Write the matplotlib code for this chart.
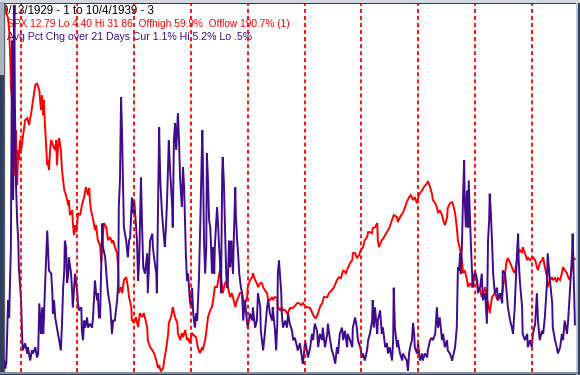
import matplotlib
matplotlib.use('Agg')
import matplotlib.pyplot as plt
from matplotlib.patches import Rectangle

# S&P (SPX) daily path (decimal year, index level)
spx_t = [
    1929.70, 1929.72, 1929.75, 1929.78, 1929.80, 1929.82, 1929.83, 1929.85, 1929.87, 1929.89,
    1929.90, 1929.92, 1929.94, 1929.96, 1929.97, 1929.99, 1930.01, 1930.04, 1930.08, 1930.12,
    1930.15, 1930.19, 1930.22, 1930.26, 1930.29, 1930.33, 1930.36, 1930.38, 1930.40, 1930.41,
    1930.43, 1930.45, 1930.47, 1930.48, 1930.50, 1930.52, 1930.54, 1930.57, 1930.61, 1930.63,
    1930.64, 1930.66, 1930.68, 1930.71, 1930.73, 1930.75, 1930.77, 1930.80, 1930.84, 1930.85,
    1930.87, 1930.91, 1930.92, 1930.94, 1930.96, 1930.98, 1931.00, 1931.01, 1931.05, 1931.08,
    1931.12, 1931.15, 1931.19, 1931.21, 1931.22, 1931.24, 1931.28, 1931.31, 1931.33, 1931.36,
    1931.40, 1931.42, 1931.44, 1931.47, 1931.51, 1931.54, 1931.58, 1931.61, 1931.63, 1931.66,
    1931.70, 1931.72, 1931.73, 1931.77, 1931.79, 1931.82, 1931.86, 1931.89, 1931.91, 1931.95,
    1931.96, 1932.00, 1932.03, 1932.07, 1932.10, 1932.14, 1932.17, 1932.23, 1932.24, 1932.28,
    1932.32, 1932.35, 1932.39, 1932.42, 1932.44, 1932.47, 1932.51, 1932.53, 1932.56, 1932.60,
    1932.61, 1932.65, 1932.68, 1932.72, 1932.76, 1932.77, 1932.81, 1932.84, 1932.86, 1932.90,
    1932.93, 1932.95, 1932.98, 1933.02, 1933.05, 1933.09, 1933.12, 1933.16, 1933.20, 1933.21,
    1933.25, 1933.28, 1933.30, 1933.34, 1933.37, 1933.39, 1933.42, 1933.46, 1933.48, 1933.51,
    1933.55, 1933.56, 1933.60, 1933.64, 1933.65, 1933.69, 1933.72, 1933.74, 1933.78, 1933.81,
    1933.83, 1933.86, 1933.90, 1933.92, 1933.95, 1933.99, 1934.00, 1934.04, 1934.08, 1934.09,
    1934.13, 1934.16, 1934.18, 1934.22, 1934.25, 1934.27, 1934.30, 1934.34, 1934.36, 1934.39,
    1934.43, 1934.44, 1934.48, 1934.52, 1934.53, 1934.57, 1934.60, 1934.62, 1934.66, 1934.69,
    1934.71, 1934.74, 1934.78, 1934.81, 1934.87, 1934.90, 1934.94, 1934.97, 1935.03, 1935.06,
    1935.10, 1935.13, 1935.17, 1935.20, 1935.24, 1935.27, 1935.31, 1935.34, 1935.40, 1935.43,
    1935.48, 1935.52, 1935.57, 1935.61, 1935.64, 1935.68, 1935.73, 1935.76, 1935.80, 1935.84,
    1935.85, 1935.89, 1935.92, 1935.96, 1935.99, 1936.03, 1936.06, 1936.10, 1936.12, 1936.15,
    1936.19, 1936.20, 1936.24, 1936.28, 1936.29, 1936.31, 1936.36, 1936.40, 1936.45, 1936.49,
    1936.54, 1936.57, 1936.63, 1936.64, 1936.70, 1936.73, 1936.77, 1936.80, 1936.84, 1936.87,
    1936.91, 1936.94, 1936.98, 1937.01, 1937.07, 1937.10, 1937.16, 1937.17, 1937.21, 1937.24,
    1937.26, 1937.30, 1937.33, 1937.35, 1937.38, 1937.42, 1937.44, 1937.47, 1937.51, 1937.52,
    1937.56, 1937.60, 1937.61, 1937.65, 1937.68, 1937.70, 1937.74, 1937.77, 1937.79, 1937.82,
    1937.86, 1937.88, 1937.91, 1937.95, 1937.96, 1938.00, 1938.05, 1938.09, 1938.12, 1938.18,
    1938.23, 1938.26, 1938.30, 1938.35, 1938.40, 1938.48, 1938.53, 1938.56, 1938.58, 1938.62,
    1938.65, 1938.67, 1938.70, 1938.74, 1938.76, 1938.79, 1938.83, 1938.84, 1938.88, 1938.92,
    1938.93, 1938.97, 1939.00, 1939.02, 1939.06, 1939.09, 1939.11, 1939.14, 1939.18, 1939.20,
    1939.23, 1939.27, 1939.28, 1939.32, 1939.36, 1939.37, 1939.41, 1939.44, 1939.46, 1939.50,
    1939.53, 1939.55, 1939.58, 1939.62, 1939.64, 1939.67, 1939.71, 1939.72, 1939.76,
]
spx_close = [
    31.30, 31.86, 31.14, 30.77, 29.87, 27.63, 25.77, 24.65, 21.67, 23.91,
    19.05, 22.41, 18.31, 20.92, 20.17, 21.67, 20.92, 21.82, 23.16, 23.31,
    22.79, 23.76, 24.65, 25.77, 25.92, 25.40, 23.91, 25.02, 23.53, 24.65,
    22.79, 21.29, 19.80, 20.17, 19.43, 20.92, 21.67, 21.29, 20.92, 21.67,
    19.80, 21.07, 21.82, 20.92, 19.43, 18.68, 17.93, 17.56, 16.81, 17.19,
    16.07, 16.44, 15.55, 14.58, 15.32, 14.80, 15.55, 16.22, 16.07, 16.81,
    17.41, 18.16, 17.56, 18.08, 17.19, 16.44, 15.70, 14.95, 15.32, 14.20,
    13.83, 12.56, 14.20, 15.47, 15.17, 14.20, 14.43, 13.98, 14.20, 13.68,
    13.23, 11.96, 10.25, 10.70, 10.25, 11.22, 11.44, 10.70, 9.95, 9.20,
    8.23, 8.01, 8.46, 7.71, 8.76, 8.46, 8.76, 7.71, 6.74, 6.22,
    5.99, 5.77, 5.25, 4.65, 4.88, 4.40, 4.65, 5.25, 5.99, 7.26,
    8.01, 8.46, 9.20, 8.46, 8.01, 7.26, 6.74, 7.26, 6.96, 7.49,
    6.74, 6.89, 6.52, 7.26, 7.11, 6.96, 6.22, 5.77, 6.22, 5.99,
    6.74, 7.71, 8.46, 8.98, 9.20, 9.73, 10.70, 10.70, 11.22, 11.96,
    10.70, 10.25, 10.99, 11.22, 10.70, 9.95, 10.25, 9.95, 9.20, 9.73,
    9.88, 10.25, 10.25, 9.73, 9.50, 9.95, 10.70, 11.22, 11.44, 11.74,
    11.22, 10.99, 10.70, 10.99, 10.99, 10.70, 10.47, 10.25, 9.73, 9.73,
    9.95, 9.73, 9.95, 9.88, 9.20, 8.98, 9.20, 8.98, 8.98, 8.76,
    8.76, 9.13, 9.13, 9.20, 9.50, 9.50, 9.35, 9.50, 9.20, 9.20,
    9.13, 8.83, 8.46, 8.38, 8.76, 9.20, 9.50, 9.95, 9.95, 10.25,
    10.47, 10.70, 11.22, 11.44, 11.37, 11.96, 11.74, 12.11, 12.49, 12.71,
    13.23, 13.23, 12.86, 13.08, 13.46, 13.68, 14.20, 14.43, 14.80, 14.80,
    14.73, 15.10, 15.17, 15.47, 14.20, 13.68, 14.20, 14.43, 14.80, 15.10,
    15.70, 16.07, 15.92, 15.55, 16.07, 16.22, 16.66, 17.04, 17.41, 17.56,
    17.19, 17.41, 16.96, 17.56, 17.93, 18.16, 18.46, 18.61, 18.16, 17.71,
    17.19, 16.96, 16.66, 16.22, 16.44, 16.07, 15.70, 15.32, 15.92, 16.59,
    16.96, 17.04, 16.96, 16.22, 15.17, 14.20, 13.46, 12.71, 11.74, 11.96,
    11.22, 10.70, 10.99, 10.70, 11.22, 11.74, 10.70, 10.47, 9.95, 10.70,
    9.50, 8.76, 9.95, 10.25, 9.73, 10.25, 11.74, 12.71, 12.86, 12.49,
    12.19, 11.96, 11.74, 12.71, 13.23, 13.46, 13.23, 13.68, 13.23, 12.71,
    12.93, 12.71, 12.86, 12.93, 12.71, 12.19, 11.96, 12.49, 12.71, 12.93,
    12.19, 11.44, 10.70, 11.22, 11.44, 11.22, 11.37, 11.07, 11.37, 11.22,
    11.74, 12.19, 11.96, 11.74, 11.44, 11.22, 12.19, 12.93, 12.79,
]

# Avg absolute pct change over 21 days (decimal year, percent)
vol_t = [
    1929.71, 1929.73, 1929.75, 1929.76, 1929.78, 1929.80, 1929.83, 1929.85, 1929.87, 1929.89,
    1929.90, 1929.92, 1929.94, 1929.96, 1929.97, 1930.01, 1930.03, 1930.04, 1930.08, 1930.12,
    1930.13, 1930.17, 1930.20, 1930.22, 1930.26, 1930.29, 1930.31, 1930.33, 1930.36, 1930.38,
    1930.40, 1930.41, 1930.43, 1930.47, 1930.48, 1930.50, 1930.54, 1930.56, 1930.57, 1930.59,
    1930.61, 1930.64, 1930.66, 1930.68, 1930.71, 1930.73, 1930.75, 1930.77, 1930.78, 1930.80,
    1930.82, 1930.84, 1930.85, 1930.89, 1930.91, 1930.92, 1930.96, 1931.00, 1931.01, 1931.03,
    1931.07, 1931.08, 1931.10, 1931.12, 1931.14, 1931.17, 1931.19, 1931.22, 1931.26, 1931.28,
    1931.31, 1931.33, 1931.35, 1931.36, 1931.38, 1931.40, 1931.42, 1931.44, 1931.45, 1931.49,
    1931.52, 1931.54, 1931.58, 1931.61, 1931.63, 1931.66, 1931.70, 1931.72, 1931.73, 1931.75,
    1931.77, 1931.79, 1931.80, 1931.82, 1931.86, 1931.88, 1931.89, 1931.91, 1931.93, 1931.96,
    1931.98, 1932.00, 1932.03, 1932.05, 1932.07, 1932.09, 1932.12, 1932.14, 1932.16, 1932.19,
    1932.23, 1932.24, 1932.26, 1932.28, 1932.32, 1932.33, 1932.35, 1932.39, 1932.40, 1932.42,
    1932.44, 1932.46, 1932.49, 1932.51, 1932.53, 1932.54, 1932.56, 1932.58, 1932.60, 1932.61,
    1932.63, 1932.67, 1932.68, 1932.70, 1932.72, 1932.74, 1932.77, 1932.79, 1932.81, 1932.84,
    1932.86, 1932.88, 1932.90, 1932.91, 1932.93, 1932.95, 1932.98, 1933.00, 1933.02, 1933.04,
    1933.07, 1933.09, 1933.11, 1933.14, 1933.16, 1933.18, 1933.20, 1933.21, 1933.23, 1933.25,
    1933.27, 1933.28, 1933.30, 1933.32, 1933.34, 1933.35, 1933.37, 1933.39, 1933.41, 1933.42,
    1933.46, 1933.48, 1933.49, 1933.51, 1933.53, 1933.55, 1933.56, 1933.58, 1933.60, 1933.62,
    1933.64, 1933.65, 1933.67, 1933.69, 1933.71, 1933.72, 1933.74, 1933.76, 1933.78, 1933.79,
    1933.81, 1933.83, 1933.85, 1933.88, 1933.90, 1933.92, 1933.93, 1933.95, 1933.99, 1934.00,
    1934.04, 1934.08, 1934.09, 1934.13, 1934.16, 1934.18, 1934.22, 1934.23, 1934.25, 1934.27,
    1934.30, 1934.34, 1934.36, 1934.39, 1934.43, 1934.44, 1934.48, 1934.50, 1934.52, 1934.53,
    1934.55, 1934.59, 1934.60, 1934.62, 1934.66, 1934.69, 1934.71, 1934.74, 1934.78, 1934.80,
    1934.83, 1934.87, 1934.88, 1934.92, 1934.96, 1934.97, 1934.99, 1935.01, 1935.04, 1935.06,
    1935.10, 1935.13, 1935.15, 1935.18, 1935.22, 1935.24, 1935.27, 1935.31, 1935.32, 1935.36,
    1935.40, 1935.41, 1935.45, 1935.48, 1935.50, 1935.54, 1935.57, 1935.59, 1935.62, 1935.66,
    1935.68, 1935.71, 1935.75, 1935.76, 1935.80, 1935.84, 1935.85, 1935.89, 1935.92, 1935.94,
    1935.98, 1936.01, 1936.03, 1936.06, 1936.10, 1936.12, 1936.15, 1936.19, 1936.20, 1936.22,
    1936.24, 1936.28, 1936.29, 1936.33, 1936.36, 1936.38, 1936.42, 1936.45, 1936.47, 1936.50,
    1936.54, 1936.56, 1936.57, 1936.59, 1936.63, 1936.64, 1936.68, 1936.72, 1936.73, 1936.77,
    1936.80, 1936.82, 1936.84, 1936.86, 1936.89, 1936.91, 1936.93, 1936.94, 1936.98, 1937.00,
    1937.03, 1937.07, 1937.08, 1937.12, 1937.16, 1937.17, 1937.21, 1937.24, 1937.26, 1937.30,
    1937.33, 1937.35, 1937.38, 1937.42, 1937.44, 1937.47, 1937.51, 1937.52, 1937.56, 1937.60,
    1937.61, 1937.65, 1937.68, 1937.70, 1937.72, 1937.74, 1937.75, 1937.77, 1937.79, 1937.81,
    1937.82, 1937.84, 1937.86, 1937.88, 1937.89, 1937.93, 1937.95, 1937.96, 1938.00, 1938.04,
    1938.05, 1938.09, 1938.12, 1938.14, 1938.18, 1938.21, 1938.23, 1938.25, 1938.26, 1938.28,
    1938.30, 1938.32, 1938.35, 1938.39, 1938.40, 1938.44, 1938.48, 1938.49, 1938.53, 1938.56,
    1938.58, 1938.62, 1938.65, 1938.67, 1938.70, 1938.74, 1938.76, 1938.77, 1938.79, 1938.83,
    1938.84, 1938.88, 1938.92, 1938.93, 1938.97, 1939.00, 1939.02, 1939.06, 1939.09, 1939.11,
    1939.14, 1939.18, 1939.20, 1939.23, 1939.27, 1939.28, 1939.32, 1939.36, 1939.37, 1939.41,
    1939.44, 1939.46, 1939.50, 1939.53, 1939.55, 1939.58, 1939.62, 1939.64, 1939.67, 1939.71,
    1939.72, 1939.74, 1939.76,
]
vol_avg = [
    0.64, 0.54, 0.61, 0.86, 1.41, 1.19, 2.09, 4.73, 2.69, 5.18,
    3.96, 2.90, 2.43, 2.17, 1.83, 1.41, 0.90, 0.77, 0.86, 0.73,
    0.81, 0.64, 0.77, 0.73, 0.81, 0.68, 0.73, 1.37, 0.98, 1.32,
    0.98, 1.15, 1.57, 2.30, 2.14, 1.79, 1.75, 1.50, 1.24, 1.41,
    1.19, 1.06, 0.98, 0.90, 0.77, 1.11, 1.57, 1.79, 2.17, 2.09,
    1.63, 1.75, 1.96, 1.75, 1.50, 1.32, 1.75, 1.50, 1.37, 1.28,
    1.32, 1.02, 0.90, 1.15, 1.06, 1.19, 1.06, 1.11, 1.06, 1.24,
    1.66, 1.50, 1.41, 1.50, 1.19, 1.19, 1.83, 2.39, 2.09, 1.96,
    1.66, 1.50, 1.32, 0.98, 1.15, 1.15, 1.41, 1.63, 2.60, 2.94,
    4.00, 3.45, 3.03, 2.34, 2.17, 2.01, 1.96, 2.17, 2.21, 2.72,
    2.52, 2.69, 2.39, 2.17, 1.66, 1.96, 2.98, 2.34, 1.83, 1.75,
    2.01, 1.50, 1.83, 2.17, 2.26, 2.09, 1.96, 1.75, 1.50, 2.52,
    3.62, 2.94, 2.52, 2.34, 2.17, 2.09, 2.34, 2.69, 3.20, 3.45,
    3.11, 2.60, 2.34, 3.45, 3.67, 3.33, 3.80, 3.45, 2.94, 2.60,
    3.11, 2.85, 2.26, 2.01, 1.66, 1.75, 1.41, 1.32, 1.57, 1.24,
    1.06, 1.24, 1.15, 1.66, 2.26, 2.94, 3.58, 3.20, 2.17, 1.75,
    2.09, 3.29, 2.94, 2.43, 2.34, 2.17, 1.75, 2.09, 1.75, 2.09,
    2.60, 2.34, 2.17, 1.92, 1.50, 3.03, 3.24, 2.90, 2.34, 1.75,
    1.57, 1.66, 2.17, 1.83, 2.17, 2.01, 1.75, 2.34, 2.85, 2.52,
    2.21, 2.01, 1.75, 1.57, 1.50, 1.15, 1.24, 1.41, 1.11, 1.06,
    1.24, 1.15, 1.32, 1.06, 1.15, 1.50, 1.32, 1.02, 0.90, 0.77,
    0.98, 1.32, 1.41, 1.24, 1.15, 1.32, 1.02, 0.77, 1.11, 1.75,
    1.92, 1.50, 1.24, 1.06, 1.15, 1.06, 1.24, 1.11, 1.02, 0.90,
    0.93, 0.81, 0.77, 0.86, 0.64, 0.60, 0.73, 0.90, 0.77, 0.68,
    0.81, 0.98, 0.90, 1.11, 1.02, 0.81, 0.98, 0.90, 1.06, 0.81,
    0.98, 1.11, 0.90, 0.77, 0.73, 0.60, 0.81, 0.73, 0.98, 1.06,
    0.90, 1.02, 0.81, 0.98, 0.90, 0.81, 1.06, 1.19, 1.06, 0.90,
    0.81, 0.68, 0.73, 0.64, 0.77, 0.90, 0.98, 1.15, 1.41, 1.06,
    1.32, 0.98, 1.15, 1.28, 0.98, 1.06, 0.81, 0.86, 0.73, 0.81,
    0.64, 0.90, 1.57, 1.06, 0.81, 0.90, 0.73, 0.64, 0.73, 0.68,
    0.64, 0.51, 0.73, 0.81, 0.90, 1.12, 0.98, 0.81, 0.73, 0.86,
    0.64, 0.73, 0.64, 0.73, 0.68, 0.77, 0.90, 0.93, 0.90, 0.98,
    1.32, 1.06, 1.19, 0.90, 0.98, 0.81, 0.90, 0.77, 0.73, 0.64,
    0.68, 0.81, 1.06, 1.83, 1.79, 2.01, 1.75, 2.09, 2.72, 3.20,
    2.69, 2.34, 2.81, 2.34, 2.94, 2.09, 1.75, 1.57, 1.79, 1.66,
    1.50, 1.57, 1.75, 1.41, 1.50, 1.11, 2.17, 2.43, 2.77, 2.52,
    2.17, 1.75, 1.50, 1.57, 1.41, 1.50, 1.37, 1.79, 1.75, 1.50,
    1.32, 1.15, 1.06, 0.98, 1.32, 2.01, 2.26, 1.92, 1.66, 1.32,
    0.98, 0.90, 0.98, 0.81, 0.90, 0.81, 0.98, 1.11, 1.50, 1.15,
    0.90, 1.02, 0.98, 1.19, 1.66, 2.01, 1.66, 1.37, 1.06, 0.90,
    0.81, 0.73, 0.81, 0.98, 0.90, 1.15, 0.98, 1.15, 1.50, 2.01,
    2.26, 1.66, 1.10,
]

year_marks = [1930, 1931, 1932, 1933, 1934, 1935, 1936, 1937, 1938, 1939]

header = '9/13/1929 - 1 to 10/4/1939 - 3'
spx_label = 'SPX 12.79 Lo 4.40 Hi 31.86  Offhigh 59.9%  Offlow 190.7% (1)'
vol_label = 'Avg Pct Chg over 21 Days Cur 1.1% Hi 5.2% Lo .5%'

RED = '#ff0000'
INDIGO = '#400c8c'
W, H = 580.0, 375.0

plt.rcParams['font.family'] = ['Liberation Sans', 'DejaVu Sans']

fig = plt.figure(figsize=(5.8, 3.75), dpi=100, facecolor='#2e3d5e')

# window chrome around the chart
fig.patches.append(Rectangle((0, 1 - 2.5 / H), 1, 2.5 / H, transform=fig.transFigure,
                             facecolor='#d3d7de', edgecolor='none', zorder=0))
fig.patches.append(Rectangle((0, 1 - 75 / H), 3.5 / W, 72.5 / H, transform=fig.transFigure,
                             facecolor='#aab2c0', edgecolor='none', zorder=0))
fig.patches.append(Rectangle((575.5 / W, 0), 2.0 / W, 1 - 2.5 / H, transform=fig.transFigure,
                             facecolor='#c4c8d0', edgecolor='none', zorder=0))
fig.patches.append(Rectangle((0, 1 - 373.5 / H), 577.5 / W, 2.0 / H, transform=fig.transFigure,
                             facecolor='#8a8e96', edgecolor='none', zorder=0))

ax = fig.add_axes([3.5 / W, 1 - 371.5 / H, 572.0 / W, 368.0 / H])
ax.set_facecolor('white')
ax.plot(spx_t, spx_close, color=RED, lw=1.4, zorder=2, solid_joinstyle='miter')
ax.set_ylim(4.40, 31.86)
ax.set_xlim(1929.70, 1939.77)

ax2 = ax.twinx()
ax2.plot(vol_t, vol_avg, color=INDIGO, lw=1.4, zorder=2, solid_joinstyle='miter')
ax2.set_ylim(0.50, 5.20)
for yr in year_marks:
    ax2.axvline(yr, color=RED, lw=1.3, dashes=(2.2, 1.7), zorder=3)

for a in (ax, ax2):
    a.set_xticks([])
    a.set_yticks([])
    for s in a.spines.values():
        s.set_visible(False)
ax.spines['left'].set_visible(True)
ax.spines['left'].set_color('#5a5e66')
ax.spines['left'].set_linewidth(1.0)

# header texts, drawn under the data lines
ax.text(2.0 / W, 1 - 14.5 / H, header, transform=fig.transFigure, color='black',
        fontsize=8.3, va='baseline', ha='left', zorder=1)
ax.text(7.0 / W, 1 - 27.0 / H, spx_label, transform=fig.transFigure, color=RED,
        fontsize=7.3, va='baseline', ha='left', zorder=1)
ax.text(7.0 / W, 1 - 39.5 / H, vol_label, transform=fig.transFigure, color=INDIGO,
        fontsize=7.6, va='baseline', ha='left', zorder=1)

fig.savefig('out.png', dpi=100, facecolor=fig.get_facecolor())
